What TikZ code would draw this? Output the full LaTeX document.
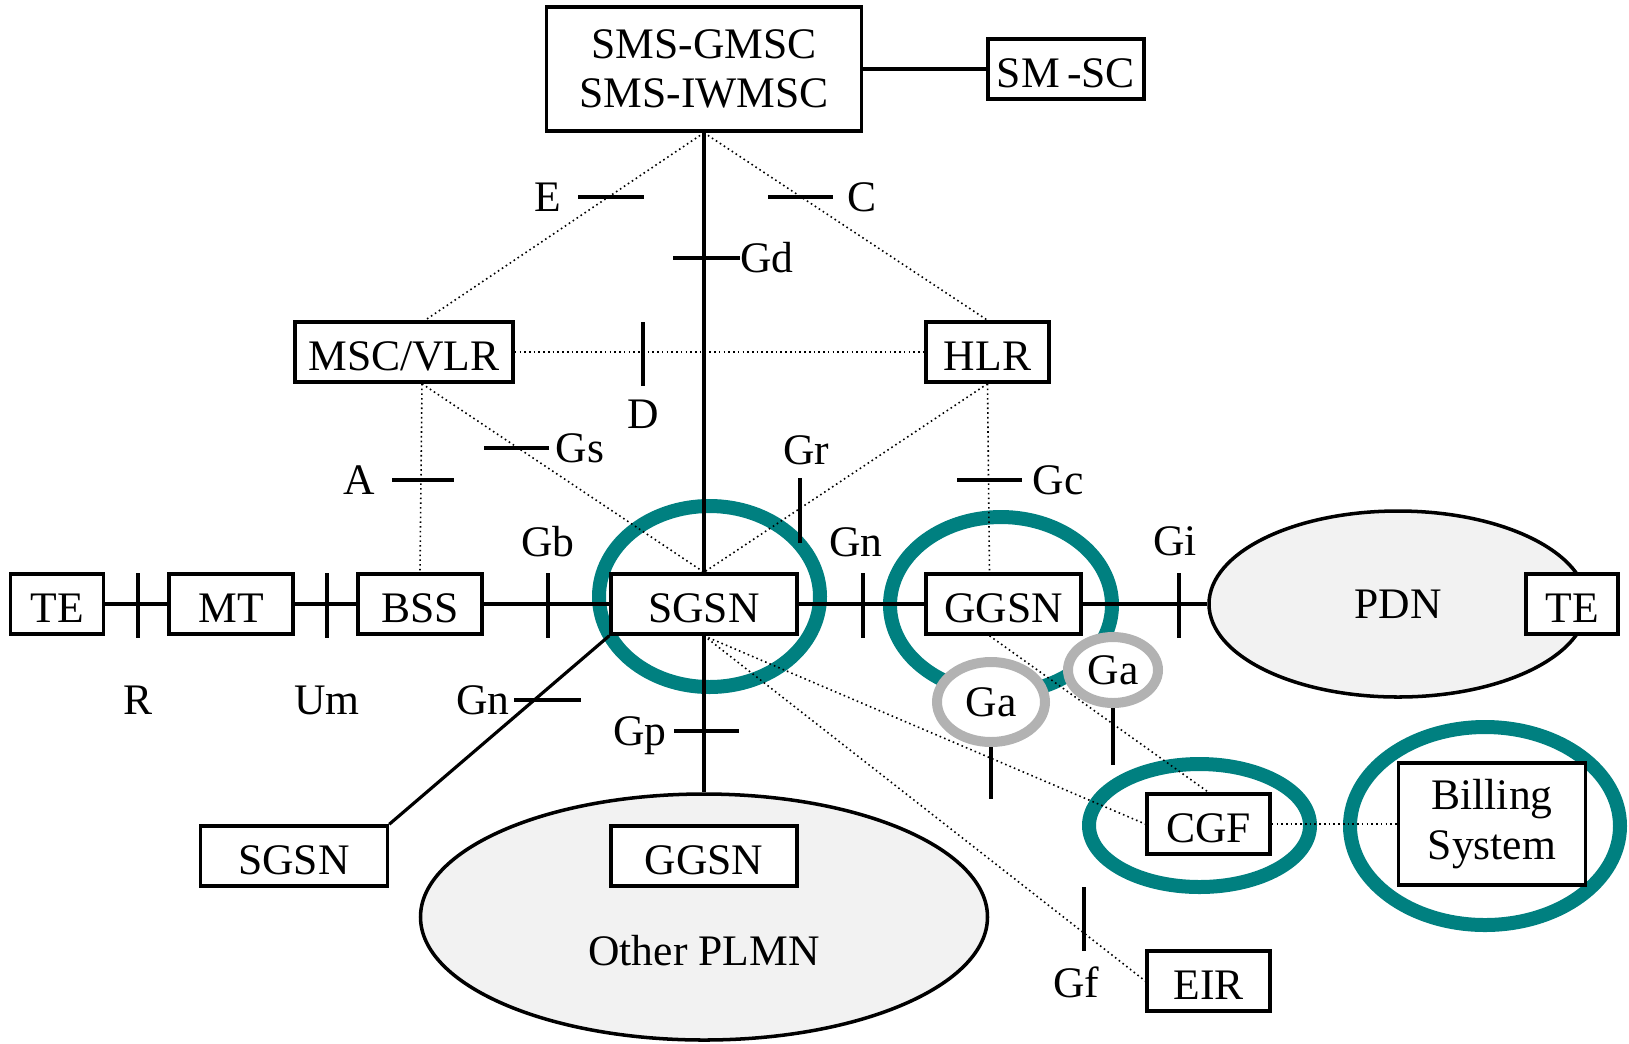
\documentclass[tikz,border=0pt]{standalone}
\usepackage{fontspec}
\setmainfont{Liberation Serif}
\usepackage{tikz}
\usetikzlibrary{shapes.geometric}
\definecolor{hlteal}{RGB}{0,128,128}
\definecolor{ringgray}{RGB}{178,178,178}
\definecolor{netfill}{RGB}{242,242,242}

\begin{document}
\begin{tikzpicture}[x=0.1mm,y=-0.1mm,
	every node/.style={font=\fontsize{12.4}{14}\selectfont},
	frame/.style={draw,line width=1pt,fill=white,inner sep=0pt},
	box/.style={frame,minimum height=6mm,text height=10.5pt,text depth=0pt},
	net/.style={draw,ellipse,line width=1pt,fill=netfill,inner sep=0pt},
	lbl/.style={inner sep=0pt,text height=8.2pt,text depth=0pt},
	hl/.style={draw=hlteal,line width=1.4mm},
	garing/.style={draw=ringgray,ellipse,line width=1mm,fill=white,inner sep=0pt},
	lnk/.style={line width=0.9pt},
	sig/.style={line width=0.45pt,dash pattern=on 0.45pt off 0.9pt},
	itf/.style={line width=1.1pt}]
				\useasboundingbox (0,0) rectangle (1629,1043);
				%%%highlight rings
				\draw[hl] (709.5,596.5) ellipse [x radius=11.05mm, y radius=9.05mm];
				\draw[hl] (1001,605) ellipse [x radius=11.1mm, y radius=8.8mm];
				\draw[hl] (1199.5,825.5) ellipse [x radius=11.05mm, y radius=6.15mm];
				\draw[hl] (1485,826) ellipse [x radius=13.5mm, y radius=9.9mm];
				%%%nodes
				%top
				\node[frame,minimum width=31.5mm,minimum height=12.4mm,align=center] at (704,69) (gmsc){SMS-GMSC\\SMS-IWMSC};
				\node[box,minimum width=15.6mm] at (1066,69) (smsc){SM\,-SC};
				%middle
				\node[box,minimum width=21.8mm] at (404,352) (msc){MSC/VLR};
				\node[box,minimum width=12.3mm] at (987.5,352) (hlr){HLR};
				%main row
				\node[box,minimum width=9.3mm] at (57,604) (te1){TE};
				\node[box,minimum width=12.4mm] at (231,604) (mt){MT};
				\node[box,minimum width=12.4mm] at (420,604) (bss){BSS};
				\node[box,minimum width=18.6mm] at (704,604) (sgsn){SGSN};
				\node[box,minimum width=15.5mm] at (1003.5,604) (ggsn){GGSN};
				\node[net,minimum width=37.8mm,minimum height=18.6mm] at (1398,604) (pdn){PDN};
				\node[box,minimum width=9.2mm] at (1572,604) (te2){TE};
				%bottom
				\node[box,minimum width=18.7mm] at (294,856) (sgsnb){SGSN};
				\node[net,minimum width=56.7mm,minimum height=24.6mm] at (704,917) (plmn){};
				\node[box,minimum width=18.6mm] at (704,856) (ggsnb){GGSN};
				\node[lbl] at (704,951) (plmnlbl){Other PLMN};
				\node[box,minimum width=12.3mm] at (1208.5,824) (cgf){CGF};
				\node[frame,minimum width=18.7mm,minimum height=12.2mm,align=center] at (1492,824) (bill){Billing\\System};
				\node[box,minimum width=12.3mm] at (1208.5,981) (eir){EIR};
				%%%links
				%solid
				\draw[lnk] (gmsc.east) -- (smsc.west);
				\draw[lnk] (gmsc.south) -- (sgsn.north);
				\draw[lnk] (te1.east) -- (mt.west);
				\draw[lnk] (mt.east) -- (bss.west);
				\draw[lnk] (bss.east) -- (sgsn.west);
				\draw[lnk] (sgsn.east) -- (ggsn.west);
				\draw[lnk] (ggsn.east) -- (pdn.west);
				\draw[lnk] (sgsn.south west) -- (sgsnb.north east);
				\draw[lnk] (sgsn.south) -- (plmn.north);
				%signalling
				\draw[sig] (gmsc.south) -- ([xshift=2.1mm]msc.north);
				\draw[sig] (gmsc.south) -- (hlr.north);
				\draw[sig] (msc.east) -- (hlr.west);
				\draw[sig] ([xshift=1.8mm]msc.south) -- (bss.north);
				\draw[sig] ([xshift=1.8mm]msc.south) -- (sgsn.north);
				\draw[sig] (hlr.south) -- (sgsn.north);
				\draw[sig] (hlr.south) -- ([xshift=-1.4mm]ggsn.north);
				\draw[sig] (sgsn.south) -- (cgf.west);
				\draw[sig] (sgsn.south) -- (eir.west);
				\draw[sig] ([xshift=-1.4mm]ggsn.south) -- (cgf.north);
				\draw[sig] (cgf.east) -- (bill.west);
				%%%interfaces
				\draw[itf] (578,197) -- (644,197);
				\node[lbl] at (548,197) (ifE){E};
				\draw[itf] (768,197) -- (833,197);
				\node[lbl] at (862,197) (ifC){C};
				\draw[itf] (673,258) -- (740,258);
				\node[lbl] at (767,258) (ifGd){Gd};
				\draw[itf] (643,322) -- (643,386);
				\node[lbl] at (643,414) (ifD){D};
				\draw[itf] (484,448) -- (549,448);
				\node[lbl] at (580,448) (ifGs){Gs};
				\draw[itf] (392,480) -- (454,480);
				\node[lbl] at (359,480) (ifA){A};
				\draw[itf] (800,478) -- (800,543);
				\node[lbl] at (806,450) (ifGr){Gr};
				\draw[itf] (957,480) -- (1022,480);
				\node[lbl] at (1058,480) (ifGc){Gc};
				%main row
				\draw[itf] (138,573) -- (138,638);
				\node[lbl] at (138,700) (ifR){R};
				\draw[itf] (327,573) -- (327,638);
				\node[lbl] at (327,700) (ifUm){Um};
				\draw[itf] (548,573) -- (548,638);
				\node[lbl] at (548,542) (ifGb){Gb};
				\draw[itf] (863,573) -- (863,638);
				\node[lbl] at (856,542) (ifGn){Gn};
				\draw[itf] (1179,573) -- (1179,638);
				\node[lbl] at (1175,541) (ifGi){Gi};
				%below
				\draw[itf] (514,700) -- (581,700);
				\node[lbl] at (483,700) (ifGnb){Gn};
				\draw[itf] (674,731) -- (739,731);
				\node[lbl] at (640,731) (ifGp){Gp};
				\draw[itf] (1084,887) -- (1084,951);
				\node[lbl] at (1076,983) (ifGf){Gf};
				%charging
				\node[garing,minimum width=10.8mm,minimum height=8mm] at (991,702) (ga1){Ga};
				\node[garing,minimum width=9mm,minimum height=6.6mm] at (1113,670) (ga2){Ga};
				\draw[itf] (ga1.south) -- ++(0,52);
				\draw[itf] (ga2.south) -- ++(0,57);
			\end{tikzpicture}
\end{document}
